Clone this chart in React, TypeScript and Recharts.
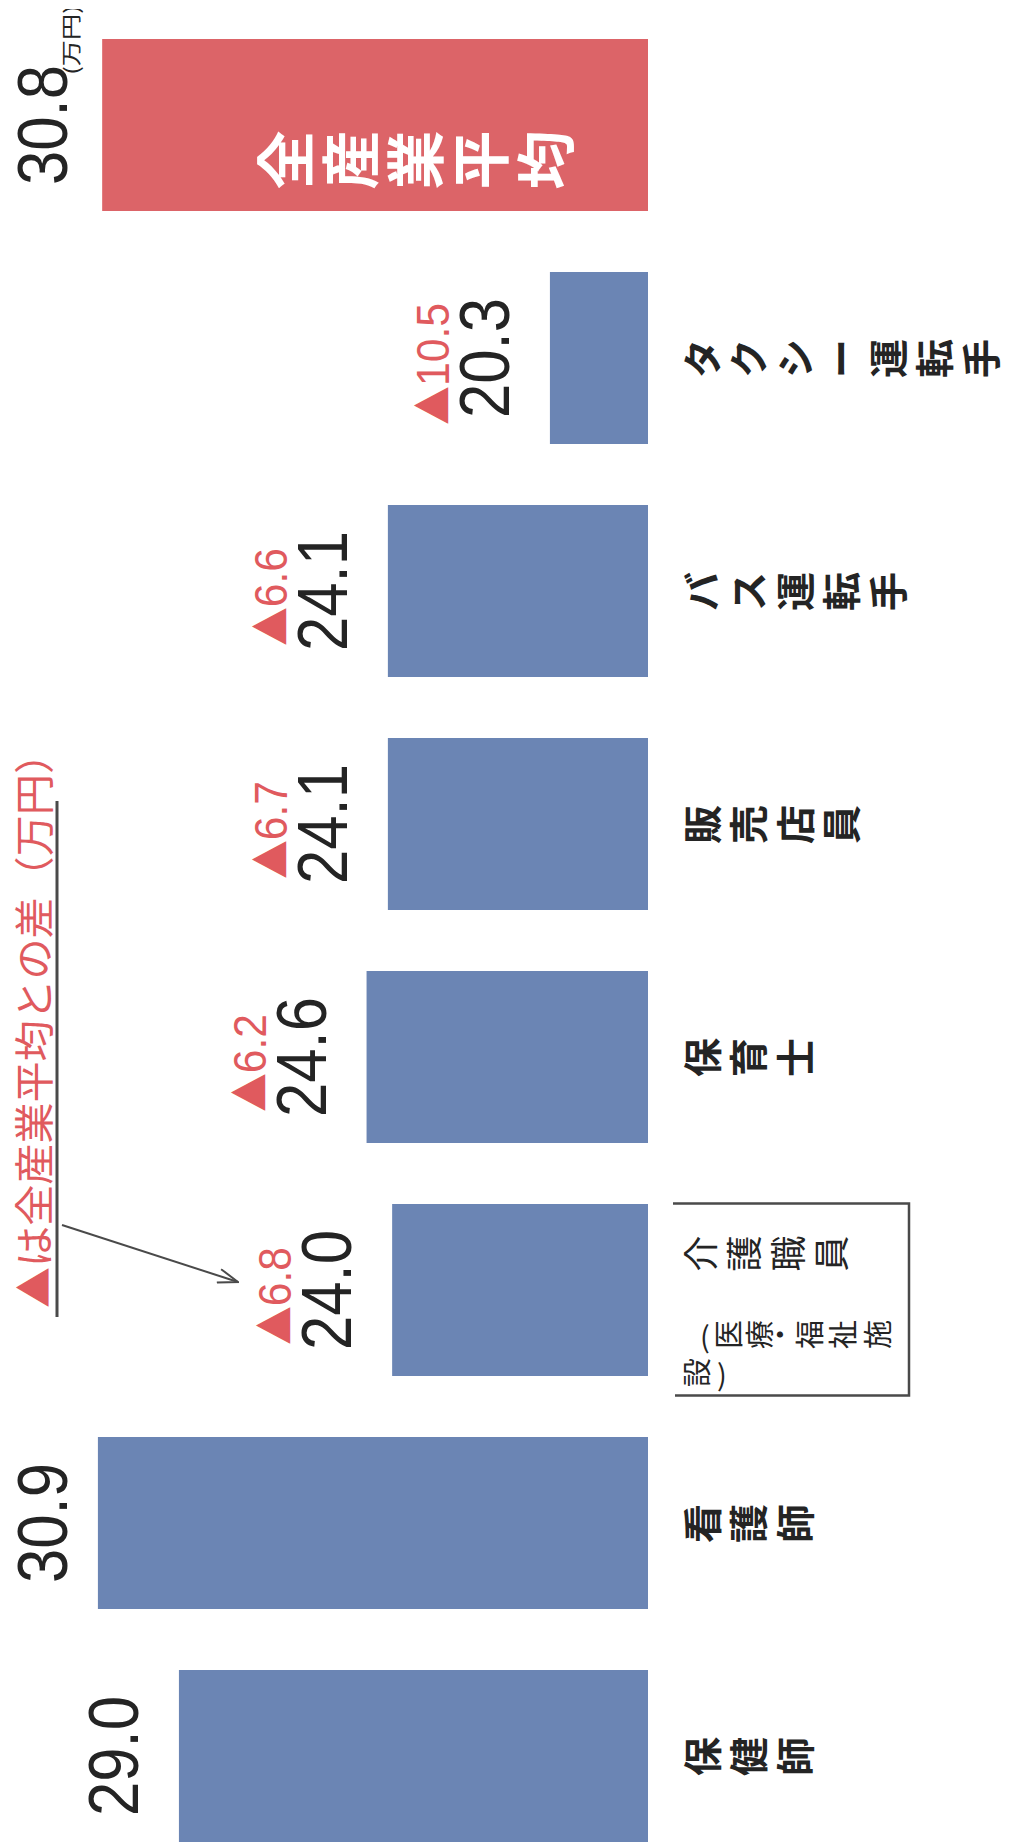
import React from 'react';
import { BarChart, Bar, XAxis, YAxis, Cell, LabelList } from 'recharts';

// ---- data ----
const categories = ['保健師', '看護師', '介護職員', '保育士', '販売店員', 'バス運転手', 'タクシー運転手', '全産業平均'];
const categoryNotes = ['', '', '（医療・福祉施設）', '', '', '', '', ''];
const wages = [29.0, 30.9, 24.0, 24.6, 24.1, 24.1, 20.3, 30.8];
const gapsFromAverage: (number | null)[] = [null, null, 6.8, 6.2, 6.7, 6.6, 10.5, null];
const averageFlags = [false, false, false, false, false, false, false, true];
const valueUnit = '(万円)';
const gapMark = '▲';
const legendText = '▲は全産業平均との差（万円）';
const yDomain: [number, number] = [18, 32];

const data = categories.map((name, i) => ({
  name,
  value: wages[i],
  gap: gapsFromAverage[i],
  note: categoryNotes[i],
  avg: averageFlags[i],
}));

// ---- styles ----
const BLUE = '#6b85b4';
const RED = '#dc6468';
const RED_TEXT = '#e05a5e';
const INK = '#242424';
const LINE = '#4a4a4a';
const NUM_FONT = '"Liberation Sans", Arial, sans-serif';
const JP_FONT = '"Noto Sans CJK JP", "Noto Sans", sans-serif';

const W = 1013;
const H = 1846;

const ValueLabel = (props: any) => {
  const x = Number(props.x);
  const y = Number(props.y);
  const width = Number(props.width);
  const index = Number(props.index);
  const d = data[index];
  if (!d) return null;
  const cx = x + width / 2;
  const base = Math.max(y - 41, 67);
  const gapNum = d.gap != null ? d.gap.toFixed(1) : '';
  const gapLen = d.gap != null ? 38 + (gapNum.length - 1) * 24 + 12 : 0;
  return (
    <g>
      <text
        x={cx}
        y={base}
        textAnchor="middle"
        fontFamily={NUM_FONT}
        fontSize={70}
        fill={INK}
        textLength={120}
        lengthAdjust="spacingAndGlyphs"
      >
        {d.value.toFixed(1)}
      </text>
      {d.gap != null && (
        <text
          x={cx - 6}
          y={base - 60}
          textAnchor="middle"
          fontFamily={NUM_FONT}
          fontSize={46}
          fill={RED_TEXT}
          textLength={gapLen}
          lengthAdjust="spacingAndGlyphs"
        >
          <tspan fontFamily={JP_FONT} fontSize={42}>{gapMark}</tspan>
          <tspan>{gapNum}</tspan>
        </text>
      )}
      {d.avg && (
        <text
          x={cx + 50}
          y={base + 12}
          textAnchor="start"
          fontFamily={JP_FONT}
          fontSize={20}
          fill={INK}
          textLength={70}
          lengthAdjust="spacingAndGlyphs"
        >
          {valueUnit}
        </text>
      )}
      {d.avg &&
        Array.from(d.name).map((c, k) => (
          <text
            key={k}
            x={cx - 35}
            y={y + 184 + 65 * k + 22}
            textAnchor="middle"
            fontFamily={JP_FONT}
            fontWeight={700}
            fontSize={59}
            fill="#ffffff"
          >
            {c}
          </text>
        ))}
    </g>
  );
};

const VChar = ({ c, x, cy, size, weight }: any) => {
  if (c === '（' || c === '）' || c === '(' || c === ')') {
    const ch = c === '（' || c === '(' ? '(' : ')';
    return (
      <text
        x={x}
        y={cy}
        textAnchor="middle"
        dominantBaseline="central"
        fontFamily={JP_FONT}
        fontSize={size}
        fontWeight={weight}
        fill={INK}
        transform={`rotate(90 ${x} ${cy})`}
      >
        {ch}
      </text>
    );
  }
  return (
    <text
      x={x}
      y={cy + 0.38 * size}
      textAnchor="middle"
      fontFamily={JP_FONT}
      fontSize={size}
      fontWeight={weight}
      fill={INK}
    >
      {c}
    </text>
  );
};

const CategoryTick = (props: any) => {
  const x = Number(props.x);
  const y = Number(props.y);
  const value = props.payload ? props.payload.value : '';
  const i = categories.indexOf(value);
  const d = data[i];
  if (!d || d.avg) return <g />;
  if (d.note) {
    const noteChars = Array.from(d.note);
    const col2 = noteChars.slice(0, 7);
    const col3 = noteChars.slice(7);
    const col2Pos = [57, 81, 112, 132, 162, 195, 230];
    const col3Pos = [49, 74];
    return (
      <g>
        <path
          d={`M ${x - 105} ${y + 27} V ${y + 261} H ${x + 87} V ${y + 25}`}
          fill="none"
          stroke={LINE}
          strokeWidth={2.5}
        />
        {Array.from(d.name).map((c, k) => (
          <VChar key={'a' + k} c={c} x={x + 37} cy={y + 53 + 43.5 * k} size={36} weight={400} />
        ))}
        {col2.map((c, k) => (
          <VChar key={'b' + k} c={c} x={x - 44} cy={y + col2Pos[k]} size={29} weight={400} />
        ))}
        {col3.map((c, k) => (
          <VChar key={'c' + k} c={c} x={x - 82} cy={y + col3Pos[k]} size={29} weight={400} />
        ))}
      </g>
    );
  }
  return (
    <g>
      {Array.from(d.name).map((c, k) => (
        <VChar key={k} c={c} x={x} cy={y + 54 + 46.5 * k} size={39} weight={700} />
      ))}
    </g>
  );
};

export default function App() {
  return (
    <div
      style={{
        position: 'absolute',
        left: 0,
        top: 0,
        width: W,
        height: H,
        overflow: 'hidden',
        background: '#ffffff',
      }}
    >
      <div
        style={{
          position: 'absolute',
          left: 0,
          top: 0,
          width: H,
          height: W,
          transformOrigin: '0 0',
          transform: `translate(0px, ${H}px) rotate(-90deg)`,
        }}
      >
        <div style={{ position: 'absolute', left: -27, top: 0 }}>
          <BarChart
            width={1864}
            height={1013}
            data={data}
            margin={{ top: 51, right: 0, bottom: 0, left: 0 }}
            barSize={172}
          >
            <XAxis
              dataKey="name"
              type="category"
              axisLine={false}
              tickLine={false}
              tickSize={0}
              tickMargin={0}
              height={365}
              interval={0}
              tick={(p: any) => <CategoryTick {...p} />}
            />
            <YAxis type="number" domain={yDomain} hide allowDataOverflow />
            <Bar dataKey="value" isAnimationActive={false}>
              {data.map((d, i) => (
                <Cell key={i} fill={d.avg ? RED : BLUE} />
              ))}
              <LabelList dataKey="value" content={(p: any) => <ValueLabel {...p} />} />
            </Bar>
          </BarChart>
        </div>
        <svg
          width={H}
          height={W}
          style={{ position: 'absolute', left: 0, top: 0, pointerEvents: 'none' }}
        >
          <defs>
            <marker
              id="arrowHead"
              viewBox="0 0 22 16"
              refX={21}
              refY={8}
              markerWidth={22}
              markerHeight={16}
              markerUnits="userSpaceOnUse"
              orient="auto"
            >
              <path d="M1,1 L21,8 L1,15" fill="none" stroke={LINE} strokeWidth={2} />
            </marker>
          </defs>
          <text
            x={538}
            y={49}
            fontFamily={JP_FONT}
            fontSize={40}
            fill={RED_TEXT}
            textLength={575}
            lengthAdjust="spacingAndGlyphs"
          >
            {legendText}
          </text>
          <line x1={529} y1={57} x2={1045} y2={57} stroke={LINE} strokeWidth={3} />
          <line x1={621} y1={62} x2={564} y2={238} stroke={LINE} strokeWidth={2} markerEnd="url(#arrowHead)" />
        </svg>
      </div>
    </div>
  );
}
